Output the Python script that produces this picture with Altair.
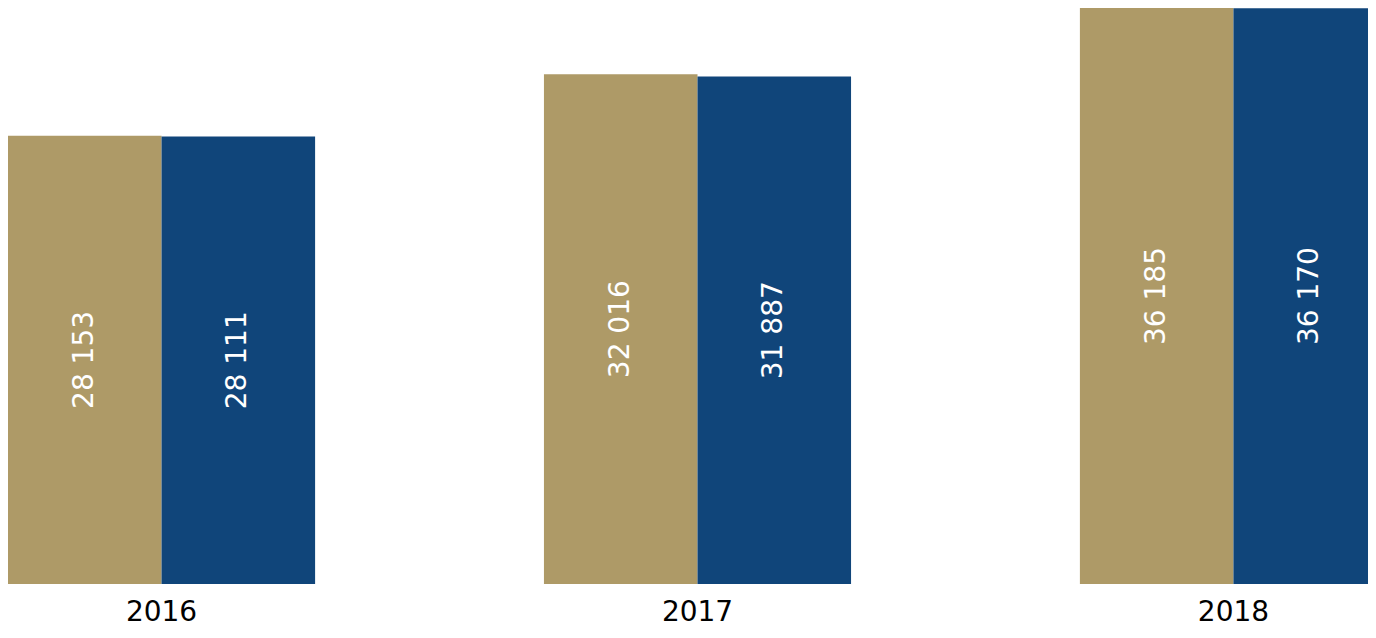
import altair as alt
import pandas as pd

years = ["2016", "2017", "2018"]
series_names = ["Serie 1", "Serie 2"]
series1 = [28153, 32016, 36185]
series2 = [28111, 31887, 36170]

rows = []
for i, y in enumerate(years):
    rows.append({"year": y, "series": series_names[0], "value": series1[i]})
    rows.append({"year": y, "series": series_names[1], "value": series2[i]})
df = pd.DataFrame(rows)

FONT = "DejaVu Sans"

base = alt.Chart(df).transform_calculate(
    mid="datum.value / 2",
    label="replace(format(datum.value, ',d'), ',', ' ')",
).encode(
    x=alt.X(
        "year:N",
        sort=years,
        scale=alt.Scale(paddingInner=0.427, paddingOuter=0, range=[0, 1379]),
        axis=alt.Axis(
            title=None, labelAngle=0, ticks=False, domain=False,
            labelFontSize=28, labelFont=FONT, labelColor="black",
            labelPadding=28, labelBaseline="middle",
        ),
    ),
    xOffset=alt.XOffset("series:N", sort=series_names,
                        scale=alt.Scale(paddingInner=0, paddingOuter=0)),
)

bars = base.mark_bar().encode(
    y=alt.Y("value:Q", scale=alt.Scale(domain=[0, 36185], nice=False), axis=None),
    color=alt.Color("series:N",
                    scale=alt.Scale(domain=series_names, range=["#AE9A67", "#10457A"]),
                    legend=None),
)

text = base.mark_text(
    angle=270, color="white", fontSize=28, font=FONT,
    align="center", baseline="middle",
).encode(
    y=alt.Y("mid:Q", scale=alt.Scale(domain=[0, 36185], nice=False), axis=None),
    text="label:N",
)

chart = alt.layer(bars, text).properties(
    width=1360, height=576,
    autosize=alt.AutoSizeParams(type="none"),
    padding={"left": 0, "top": 0, "right": 0, "bottom": 46},
).configure_view(stroke=None)

chart.save("out.html", embed_options={"renderer": "svg", "actions": False})
